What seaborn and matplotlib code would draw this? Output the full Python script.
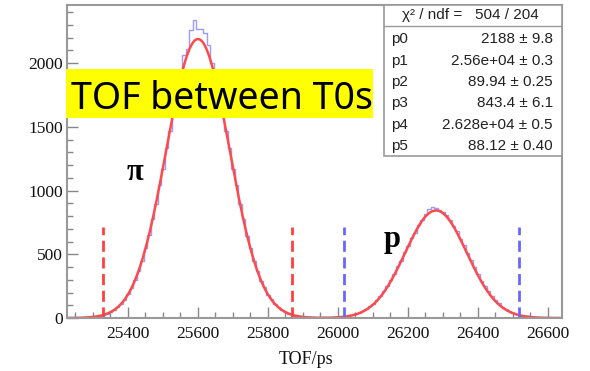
import numpy as np
import pandas as pd
import matplotlib
matplotlib.use("Agg")
import matplotlib.pyplot as plt
from matplotlib.patches import Rectangle
from matplotlib.ticker import MultipleLocator
import seaborn as sns

# ---------------- data ----------------
first_bin_center = 25220
bin_width = 10
counts = [
    0, 1, 0, 1, 2, 3, 5, 6, 10, 12, 18, 23, 35, 47, 61, 86, 112, 141, 188, 232,
    298, 372, 447, 551, 648, 779, 893, 1045, 1170, 1336, 1468, 1630, 1745, 1890,
    2060, 2110, 2260, 2337, 2265, 2270, 2235, 2140, 2000, 1885, 1760, 1622, 1468,
    1335, 1172, 1044, 892, 775, 645, 550, 446, 372, 290, 240, 182, 147, 107, 86,
    61, 47, 33, 25, 16, 13, 8, 7, 4, 5, 3, 2, 4, 3, 3, 6, 7, 10, 12, 19, 23, 33,
    41, 57, 70, 93, 112, 145, 172, 213, 248, 300, 343, 405, 450, 516, 565, 628,
    670, 730, 770, 815, 858, 872, 862, 850, 832, 810, 768, 718, 680, 620, 571,
    508, 457, 397, 349, 294, 253, 208, 176, 140, 116, 89, 72, 54, 43, 31, 25, 17,
    13, 9, 7, 5, 3, 3, 2, 1, 1, 1, 0,
]

# fit parameters (from the stats box)
fit_params = {"p0": 2188, "p1": 25600, "p2": 89.94, "p3": 843.4, "p4": 26280, "p5": 88.12}
table_names = ["p0", "p1", "p2", "p3", "p4", "p5"]
table_values = ["2188 \u00b1 9.8", "2.56e+04 \u00b1 0.3", "89.94 \u00b1 0.25",
                "843.4 \u00b1 6.1", "2.628e+04 \u00b1 0.5", "88.12 \u00b1 0.40"]
chi2_text = "\u03c7\u00b2 / ndf =   504 / 204"

pi_cuts = [25330, 25870]
p_cuts = [26018, 26518]
cut_height = 710

x_ticks = [25400, 25600, 25800, 26000, 26200, 26400, 26600]
y_ticks = [0, 500, 1000, 1500, 2000]

# ---------------- figure ----------------
sns.set_style("ticks")
plt.rcParams["font.family"] = ["Liberation Serif", "DejaVu Serif"]

fig = plt.figure(figsize=(5.9, 3.71), dpi=100)
ax = fig.add_axes([66.7 / 590, 1 - 318 / 371, (562 - 66.7) / 590, (318 - 5) / 371])

centers = first_bin_center + bin_width * np.arange(len(counts))
lo = float(centers[0] - bin_width / 2)
hi = float(centers[-1] + bin_width / 2)
df = pd.DataFrame({"tof": centers, "n": counts})
sns.histplot(data=df, x="tof", weights="n", binwidth=bin_width, binrange=(lo, hi),
             element="step", fill=False, color="#9a9aff", linewidth=1.0, ax=ax)

grid = np.linspace(lo, hi, 1500)
fp = fit_params
fit = (fp["p0"] * np.exp(-0.5 * ((grid - fp["p1"]) / fp["p2"]) ** 2)
       + fp["p3"] * np.exp(-0.5 * ((grid - fp["p4"]) / fp["p5"]) ** 2))
sns.lineplot(x=grid, y=fit, color="#ff4a4a", linewidth=1.8, ax=ax)

ax.vlines(pi_cuts, 0, cut_height, colors="#ff4040", linewidth=2.0, linestyles=(0, (4, 2)))
ax.vlines(p_cuts, 0, cut_height, colors="#6868ff", linewidth=2.0, linestyles=(0, (4, 2)))

ax.set_xlim(25225, 26640)
ax.set_ylim(0, 2455)
ax.set_xticks(x_ticks)
ax.set_yticks(y_ticks)
ax.xaxis.set_minor_locator(MultipleLocator(50))
ax.yaxis.set_minor_locator(MultipleLocator(100))
ax.tick_params(axis="both", which="major", direction="in", length=8, width=1.0,
               color="#888888", labelsize=12.5, labelcolor="#111111")
ax.tick_params(axis="both", which="minor", direction="in", length=4, width=1.0, color="#888888")
ax.tick_params(axis="x", which="major", pad=6)
ax.tick_params(axis="y", which="major", pad=2.5)
ax.set_xlabel("")
ax.set_ylabel("")
for s in ax.spines.values():
    s.set_color("#999999")
    s.set_linewidth(1.5)

fig.text(306 / 590, 1 - 360 / 371, "TOF/ps", ha="center", va="center", fontsize=13,
         color="#111111")

# particle labels
fig.text(135 / 590, 1 - 173 / 371, "\u03c0", ha="center", va="center", fontsize=22,
         fontweight="bold", color="black")
fig.text(392 / 590, 1 - 240 / 371, "p", ha="center", va="center", fontsize=22,
         fontweight="bold", color="black")

# stats box
def fx(px):
    return px / 590

def fy(py):
    return 1 - py / 371

box = Rectangle((fx(384), fy(156)), fx(562) - fx(384), fy(5) - fy(156), transform=fig.transFigure,
                facecolor="white", edgecolor="#999999", linewidth=1.2, zorder=10)
fig.add_artist(box)
fig.add_artist(plt.Line2D([fx(384), fx(562)], [fy(26), fy(26)], transform=fig.transFigure,
                          color="#999999", linewidth=1.0, zorder=11))
sans = ["Liberation Sans Narrow", "Liberation Sans", "DejaVu Sans"]
fig.text(fx(470), fy(15.5), chi2_text, ha="center", va="center", fontsize=11,
         family=sans, color="#222222", zorder=12)
row_y = [39, 61, 82, 103, 125, 146]
for name, val, ry in zip(table_names, table_values, row_y):
    fig.text(fx(391), fy(ry), name, ha="left", va="center", fontsize=11, family=sans,
             color="#222222", zorder=12)
    fig.text(fx(553), fy(ry), val, ha="right", va="center", fontsize=11, family=sans,
             color="#222222", zorder=12)

# yellow title box
ybox = Rectangle((fx(66), fy(118)), fx(373) - fx(66), fy(69) - fy(118), transform=fig.transFigure,
                 facecolor="#ffff00", edgecolor="none", zorder=20)
fig.add_artist(ybox)
fig.text(fx(71), fy(109.3), "TOF between T0s", ha="left", va="baseline", fontsize=27,
         family=["Noto Sans", "DejaVu Sans"], color="black", zorder=21)

fig.savefig("out.png", dpi=100)
